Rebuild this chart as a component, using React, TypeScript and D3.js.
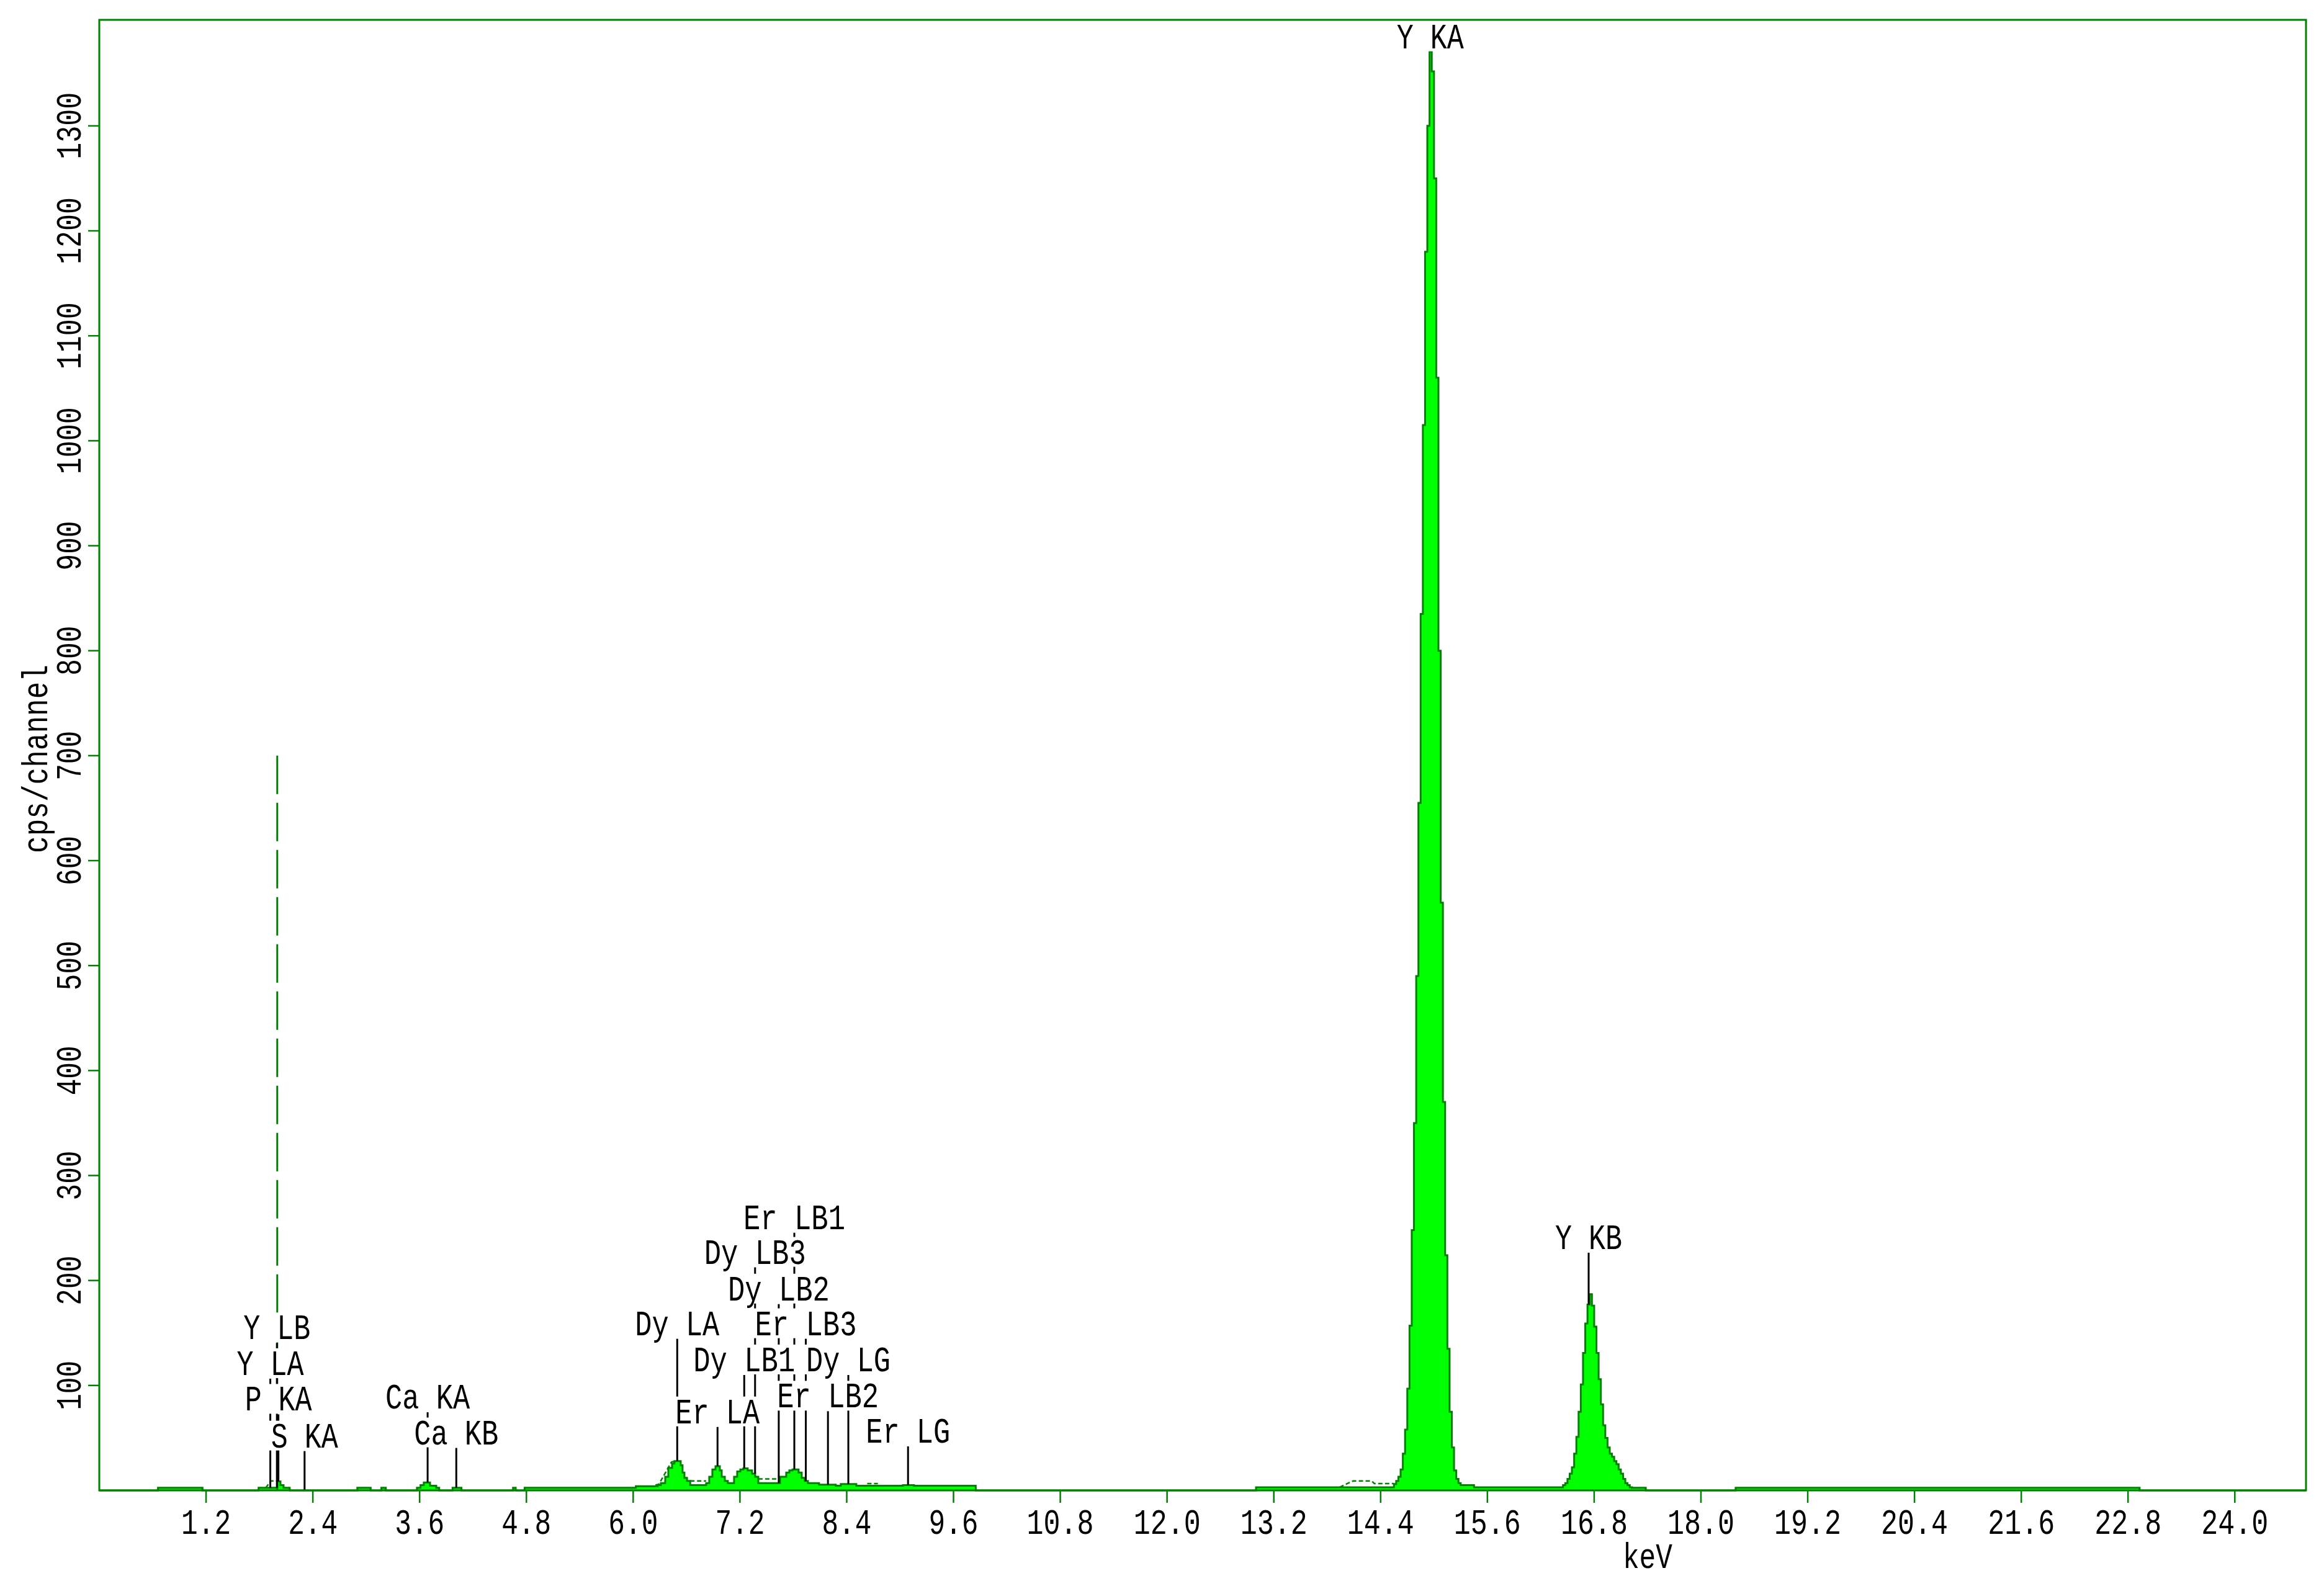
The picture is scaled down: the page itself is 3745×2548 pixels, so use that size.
import React from 'react';
import * as d3 from 'd3';

const WIDTH = 3745;
const HEIGHT = 2548;
const margin = { top: 32, right: 29, bottom: 146, left: 160 };

const DARK = '#008000';
const BRIGHT = '#00ff00';
const FONT = '"Liberation Mono", "DejaVu Sans Mono", monospace';
const CHAR_W = 28;

const xTicks = [1.2, 2.4, 3.6, 4.8, 6.0, 7.2, 8.4, 9.6, 10.8, 12.0, 13.2, 14.4, 15.6, 16.8, 18.0, 19.2, 20.4, 21.6, 22.8, 24.0];
const yTicks = [100, 200, 300, 400, 500, 600, 700, 800, 900, 1000, 1100, 1200, 1300];

// step points [keV, cps] below 10 keV
const lowSpectrum: [number, number][] = [
  [0, 0], [0.66, 2.5], [1.16, 0],
  [1.79, 2.5], [2.0, 8.5], [2.036, 5], [2.071, 2.5], [2.14, 0],
  [2.9, 2.5], [3.05, 0], [3.17, 2.5], [3.22, 0],
  [3.57, 2.5], [3.61, 5], [3.647, 7.5], [3.717, 4.5], [3.787, 2.5], [3.82, 0],
  [3.97, 2.5], [4.07, 0], [4.65, 2.5], [4.68, 0],
  [4.78, 2.5], [6.03, 4],
  [6.276, 5], [6.311, 7], [6.36, 13], [6.395, 21.5], [6.437, 25.5], [6.464, 28], [6.534, 24], [6.555, 17], [6.576, 12], [6.605, 9], [6.641, 5],
  [6.82, 7], [6.855, 13], [6.89, 20], [6.925, 23], [6.974, 19], [6.995, 13], [7.03, 9], [7.064, 7],
  [7.134, 13], [7.169, 18], [7.204, 20], [7.238, 21], [7.287, 19], [7.336, 16], [7.371, 13], [7.406, 7],
  [7.65, 13], [7.72, 17], [7.755, 19], [7.79, 20], [7.859, 17], [7.894, 12], [7.929, 9], [7.964, 7],
  [8.089, 5.5], [8.277, 4.5], [8.333, 6], [8.508, 4.5], [9.031, 5], [9.156, 4.5], [9.85, 0],
];

const midBaseline: [number, number][] = [[13.0, 3]];

// Y K-alpha peak, channels of 0.025 keV from 14.55
const channel = 0.025;
const yKaStart = 14.55;
const yKaCounts = [6, 9, 13, 20, 35, 58, 97, 157, 248, 350, 490, 655, 835, 1015, 1180, 1300, 1371, 1352, 1250, 1060, 800, 560, 370, 224, 135, 75, 41, 19, 11, 7, 5];

const betweenPeaks: [number, number][] = [[15.325, 5], [15.45, 3]];

// Y K-beta peak from 16.45
const yKbStart = 16.45;
const yKbCounts = [5, 7, 11, 16, 22, 35, 51, 75, 101, 131, 159, 177, 187, 176, 156, 131, 106, 82, 62, 50, 41, 35, 32, 28, 25, 20, 16, 11, 7, 5, 3];

const highTail: [number, number][] = [[17.225, 2.5], [17.38, 0], [18.39, 2.5], [22.93, 0], [24.8, 0]];

// second (unfilled) spectrum where it shows above the filled one
const overlaySegments: [number, number][][] = [
  [[1.87, 2.5], [1.93, 9], [2.02, 9]],
  [[6.25, 5], [6.29, 6], [6.43, 27], [6.47, 28]],
  [[6.641, 9], [6.82, 9]],
  [[7.406, 11], [7.65, 11]],
  [[8.63, 6.5], [8.75, 6.5]],
  [[13.94, 3], [14.0, 5.5], [14.09, 9], [14.3, 9], [14.33, 6.5], [14.55, 6.5]],
];

const cursorKeV = 2.0;
const cursorTop = 700;

// element line markers: energy (keV) and label height (cps)
const lineLabels = [
  { el: 'Y', line: 'KA', keV: 14.958, level: 1374 },
  { el: 'Y', line: 'KB', keV: 16.738, level: 230 },
  { el: 'Y', line: 'LB', keV: 1.996, level: 144 },
  { el: 'Y', line: 'LA', keV: 1.922, level: 110 },
  { el: 'P', line: 'KA', keV: 2.013, level: 76 },
  { el: 'S', line: 'KA', keV: 2.307, level: 41 },
  { el: 'Ca', line: 'KA', keV: 3.69, level: 78 },
  { el: 'Ca', line: 'KB', keV: 4.012, level: 44 },
  { el: 'Dy', line: 'LA', keV: 6.495, level: 148 },
  { el: 'Dy', line: 'LB1', keV: 7.248, level: 113.5 },
  { el: 'Dy', line: 'LB2', keV: 7.636, level: 181 },
  { el: 'Dy', line: 'LB3', keV: 7.37, level: 216 },
  { el: 'Dy', line: 'LG', keV: 8.418, level: 113.5 },
  { el: 'Er', line: 'LA', keV: 6.948, level: 64 },
  { el: 'Er', line: 'LB1', keV: 7.811, level: 249 },
  { el: 'Er', line: 'LB2', keV: 8.189, level: 79 },
  { el: 'Er', line: 'LB3', keV: 7.94, level: 148 },
  { el: 'Er', line: 'LG', keV: 9.089, level: 45.5 },
];

const T = ({ x, y, transform, children }: { x?: number; y?: number; transform?: string; children: string }) => (
  <text
    x={x}
    y={y}
    transform={transform}
    textAnchor="middle"
    textLength={children.length * CHAR_W - 4}
    lengthAdjust="spacingAndGlyphs"
    style={{ fontFamily: FONT, fontSize: 58, fill: '#000' }}
  >
    {children}
  </text>
);

const App = () => {
  const x = d3.scaleLinear().domain([0, 24.8]).range([margin.left, WIDTH - margin.right]);
  const y = d3.scaleLinear().domain([0, 1401]).range([HEIGHT - margin.bottom, margin.top]);

  const spectrum: [number, number][] = [
    ...lowSpectrum,
    ...midBaseline,
    ...yKaCounts.map((c, i) => [yKaStart + i * channel, c] as [number, number]),
    ...betweenPeaks,
    ...yKbCounts.map((c, i) => [yKbStart + i * channel, c] as [number, number]),
    ...highTail,
  ];

  const valueAt = (e: number) => {
    let v = 0;
    for (const [k, c] of spectrum) {
      if (k <= e) v = c;
      else break;
    }
    return v;
  };

  const area = d3.area<[number, number]>()
    .x(d => x(d[0]))
    .y0(y(0))
    .y1(d => y(d[1]))
    .curve(d3.curveStepAfter);
  const outline = d3.line<[number, number]>()
    .x(d => x(d[0]))
    .y(d => y(d[1]))
    .curve(d3.curveStepAfter);
  const overlayLine = d3.line<[number, number]>()
    .x(d => x(d[0]))
    .y(d => y(d[1]));

  const x0 = x.range()[0], x1 = x.range()[1];
  const yb = y(0), yt = y.range()[1];

  return (
    <svg width={WIDTH} height={HEIGHT} style={{ position: 'absolute', left: 0, top: 0, background: '#fff' }}>
      <rect x={0} y={0} width={WIDTH} height={HEIGHT} fill="#fff" />

      {/* spectrum */}
      <path d={area(spectrum) || ''} fill={BRIGHT} />
      <path d={outline(spectrum) || ''} fill="none" stroke={DARK} strokeWidth={3} />
      {overlaySegments.map((seg, i) => (
        <path key={i} d={overlayLine(seg) || ''} fill="none" stroke={DARK} strokeWidth={2.5} strokeDasharray="7 4" />
      ))}

      {/* cursor */}
      <line x1={x(cursorKeV)} x2={x(cursorKeV)} y1={y(cursorTop)} y2={yb} stroke={DARK} strokeWidth={3} strokeDasharray="62 14" />

      {/* marker lines */}
      {lineLabels.map((d, i) => {
        const top = y(d.level) + 6;
        const bottom = y(valueAt(d.keV));
        if (bottom <= top) return null;
        return <line key={i} x1={x(d.keV)} x2={x(d.keV)} y1={top} y2={bottom} stroke="#000" strokeWidth={3} />;
      })}

      {/* labels with white boxes */}
      {lineLabels.map((d, i) => {
        const text = `${d.el} ${d.line}`;
        const w = text.length * CHAR_W + 4;
        const base = y(d.level);
        return (
          <g key={i}>
            <rect x={x(d.keV) - w / 2} y={base - 43} width={w} height={48} fill="#fff" />
            <T x={x(d.keV)} y={base}>{text}</T>
          </g>
        );
      })}

      {/* frame */}
      <rect x={x0} y={yt} width={x1 - x0} height={yb - yt} fill="none" stroke={DARK} strokeWidth={3} />

      {/* x axis */}
      {xTicks.map(t => (
        <g key={t}>
          <line x1={x(t)} x2={x(t)} y1={yb} y2={yb + 20} stroke={DARK} strokeWidth={2.5} />
          <T x={x(t)} y={yb + 70}>{t.toFixed(1)}</T>
        </g>
      ))}
      <T x={x(17.4)} y={yb + 125}>keV</T>

      {/* y axis */}
      {yTicks.map(t => (
        <g key={t}>
          <line x1={x0 - 18} x2={x0} y1={y(t)} y2={y(t)} stroke={DARK} strokeWidth={2.5} />
          <T transform={`translate(${x0 - 30},${y(t)}) rotate(-90)`}>{String(t)}</T>
        </g>
      ))}
      <T transform={`translate(76,${(yb + yt) / 2 + 6}) rotate(-90)`}>cps/channel</T>
    </svg>
  );
};

export default App;
